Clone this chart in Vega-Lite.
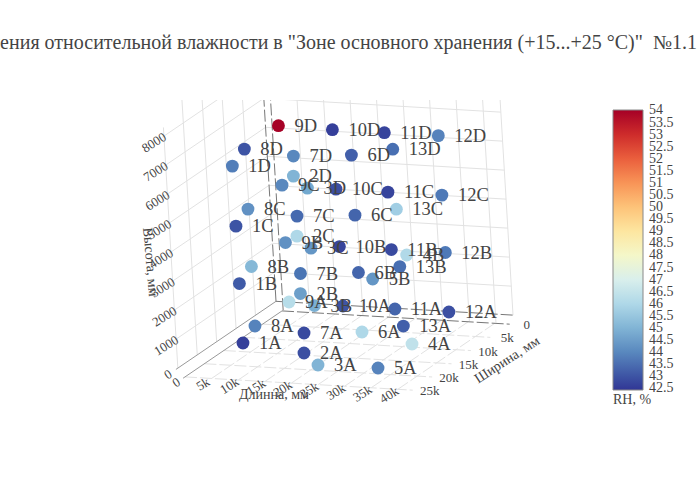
{"$schema":"https://vega.github.io/schema/vega-lite/v6.json","width":700,"height":400,"autosize":{"type":"none"},"padding":{"top":100,"left":0,"right":0,"bottom":0},"background":"white","title":{"text":"Изменения относительной влажности в \"Зоне основного хранения (+15...+25 °C)\"\u00a0\u00a0№1.1","anchor":"end","frame":"group","dx":-3,"offset":47,"font":"Liberation Serif","fontSize":20,"fontWeight":"normal","color":"#444"},"datasets":{"points":[{"label":"1A","l":5940,"w":17940,"h":300,"rh":42.6},{"label":"2A","l":19050,"w":20190,"h":300,"rh":42.9},{"label":"3A","l":24530,"w":24090,"h":300,"rh":45},{"label":"4A","l":35460,"w":14850,"h":300,"rh":46.4},{"label":"5A","l":35680,"w":23910,"h":300,"rh":43.9},{"label":"6A","l":23750,"w":11680,"h":300,"rh":46},{"label":"7A","l":13960,"w":13200,"h":300,"rh":42.8},{"label":"8A","l":3690,"w":11760,"h":300,"rh":43.9},{"label":"9A","l":3480,"w":2700,"h":300,"rh":46.2},{"label":"10A","l":13840,"w":3000,"h":300,"rh":43},{"label":"11A","l":23600,"w":2990,"h":300,"rh":43.3},{"label":"12A","l":33700,"w":2930,"h":300,"rh":42.9},{"label":"13A","l":29400,"w":8770,"h":300,"rh":43.2},{"label":"1B","l":5940,"w":17940,"h":2350,"rh":43.1},{"label":"2B","l":19050,"w":20190,"h":2350,"rh":44.5},{"label":"3B","l":24530,"w":24090,"h":2350,"rh":44.85},{"label":"4B","l":35460,"w":14850,"h":3370,"rh":46.05},{"label":"5B","l":35680,"w":23910,"h":3370,"rh":44.3},{"label":"6B","l":23750,"w":11680,"h":2350,"rh":43.3},{"label":"7B","l":13960,"w":13200,"h":2350,"rh":43.6},{"label":"8B","l":3690,"w":11760,"h":2350,"rh":45.1},{"label":"9B","l":3480,"w":2700,"h":2350,"rh":44.2},{"label":"10B","l":13840,"w":3000,"h":2350,"rh":42.7},{"label":"11B","l":23600,"w":2990,"h":2350,"rh":42.8},{"label":"12B","l":33700,"w":2930,"h":2350,"rh":43.7},{"label":"13B","l":29400,"w":8770,"h":2350,"rh":43.5},{"label":"1C","l":5940,"w":17940,"h":4330,"rh":43},{"label":"2C","l":19050,"w":20190,"h":4330,"rh":46},{"label":"3C","l":24530,"w":24090,"h":4330,"rh":44.3},{"label":"6C","l":23750,"w":11680,"h":4330,"rh":43.3},{"label":"7C","l":13960,"w":13200,"h":4330,"rh":43.4},{"label":"8C","l":3690,"w":11760,"h":4330,"rh":44.2},{"label":"9C","l":3480,"w":2700,"h":4330,"rh":44},{"label":"10C","l":13840,"w":3000,"h":4330,"rh":42.9},{"label":"11C","l":23600,"w":2990,"h":4330,"rh":42.7},{"label":"12C","l":33700,"w":2930,"h":4330,"rh":43.7},{"label":"13C","l":29400,"w":8770,"h":4330,"rh":45.7},{"label":"1D","l":5940,"w":17940,"h":6400,"rh":43.8},{"label":"2D","l":19050,"w":20190,"h":6400,"rh":45},{"label":"3D","l":24530,"w":24090,"h":6400,"rh":44.7},{"label":"6D","l":23750,"w":11680,"h":6400,"rh":43.2},{"label":"7D","l":13960,"w":13200,"h":6400,"rh":44},{"label":"8D","l":3690,"w":11760,"h":6400,"rh":43},{"label":"9D","l":3480,"w":2700,"h":6380,"rh":54},{"label":"10D","l":13840,"w":3000,"h":6380,"rh":42.6},{"label":"11D","l":23600,"w":2990,"h":6380,"rh":42.7},{"label":"12D","l":33700,"w":2930,"h":6380,"rh":43.9},{"label":"13D","l":29400,"w":8770,"h":6400,"rh":43.5}],"grid":[{"l1":5000,"w1":-300,"h1":-290,"l2":5000,"w2":-300,"h2":9000},{"l1":10000,"w1":-300,"h1":-290,"l2":10000,"w2":-300,"h2":9000},{"l1":15000,"w1":-300,"h1":-290,"l2":15000,"w2":-300,"h2":9000},{"l1":20000,"w1":-300,"h1":-290,"l2":20000,"w2":-300,"h2":9000},{"l1":25000,"w1":-300,"h1":-290,"l2":25000,"w2":-300,"h2":9000},{"l1":30000,"w1":-300,"h1":-290,"l2":30000,"w2":-300,"h2":9000},{"l1":35000,"w1":-300,"h1":-290,"l2":35000,"w2":-300,"h2":9000},{"l1":40000,"w1":-300,"h1":-290,"l2":40000,"w2":-300,"h2":9000},{"l1":43300,"w1":-300,"h1":0,"l2":43300,"w2":-300,"h2":9000},{"l1":-1250,"w1":-300,"h1":1000,"l2":43300,"w2":-300,"h2":1000},{"l1":-1250,"w1":-300,"h1":2000,"l2":43300,"w2":-300,"h2":2000},{"l1":-1250,"w1":-300,"h1":3000,"l2":43300,"w2":-300,"h2":3000},{"l1":-1250,"w1":-300,"h1":4000,"l2":43300,"w2":-300,"h2":4000},{"l1":-1250,"w1":-300,"h1":5000,"l2":43300,"w2":-300,"h2":5000},{"l1":-1250,"w1":-300,"h1":6000,"l2":43300,"w2":-300,"h2":6000},{"l1":-1250,"w1":-300,"h1":7000,"l2":43300,"w2":-300,"h2":7000},{"l1":-1250,"w1":5000,"h1":0,"l2":-1250,"w2":5000,"h2":9000},{"l1":-1250,"w1":10000,"h1":0,"l2":-1250,"w2":10000,"h2":9000},{"l1":-1250,"w1":15000,"h1":0,"l2":-1250,"w2":15000,"h2":9000},{"l1":-1250,"w1":20000,"h1":0,"l2":-1250,"w2":20000,"h2":9000},{"l1":-1250,"w1":25000,"h1":0,"l2":-1250,"w2":25000,"h2":8300},{"l1":-1250,"w1":-300,"h1":1000,"l2":-1250,"w2":25500,"h2":1000},{"l1":-1250,"w1":-300,"h1":2000,"l2":-1250,"w2":25500,"h2":2000},{"l1":-1250,"w1":-300,"h1":3000,"l2":-1250,"w2":25500,"h2":3000},{"l1":-1250,"w1":-300,"h1":4000,"l2":-1250,"w2":25500,"h2":4000},{"l1":-1250,"w1":-300,"h1":5000,"l2":-1250,"w2":25500,"h2":5000},{"l1":-1250,"w1":-300,"h1":6000,"l2":-1250,"w2":25500,"h2":6000},{"l1":-1250,"w1":-300,"h1":7000,"l2":-1250,"w2":25500,"h2":7000},{"l1":-1250,"w1":-300,"h1":8000,"l2":-1250,"w2":25500,"h2":8000}],"floor":[{"l1":5000,"w1":0,"h1":-290,"l2":5000,"w2":25500,"h2":-290},{"l1":10000,"w1":0,"h1":-290,"l2":10000,"w2":25500,"h2":-290},{"l1":15000,"w1":0,"h1":-290,"l2":15000,"w2":25500,"h2":-290},{"l1":20000,"w1":0,"h1":-290,"l2":20000,"w2":25500,"h2":-290},{"l1":25000,"w1":0,"h1":-290,"l2":25000,"w2":25500,"h2":-290},{"l1":30000,"w1":0,"h1":-290,"l2":30000,"w2":25500,"h2":-290},{"l1":35000,"w1":0,"h1":-290,"l2":35000,"w2":25500,"h2":-290},{"l1":40000,"w1":0,"h1":-290,"l2":40000,"w2":25500,"h2":-290},{"l1":0,"w1":5000,"h1":-290,"l2":42800,"w2":5000,"h2":-290},{"l1":0,"w1":10000,"h1":-290,"l2":42800,"w2":10000,"h2":-290},{"l1":0,"w1":15000,"h1":-290,"l2":42800,"w2":15000,"h2":-290},{"l1":0,"w1":20000,"h1":-290,"l2":42800,"w2":20000,"h2":-290},{"l1":0,"w1":25000,"h1":-290,"l2":42800,"w2":25000,"h2":-290}],"zero":[{"l1":0,"w1":0,"h1":-290,"l2":0,"w2":25500,"h2":-290},{"l1":-1250,"w1":-300,"h1":0,"l2":-1250,"w2":25500,"h2":0}],"spine":[{"l1":0,"w1":0,"h1":-290,"l2":42800,"w2":0,"h2":-290},{"l1":-1250,"w1":-300,"h1":0,"l2":43300,"w2":-300,"h2":0},{"l1":-1250,"w1":-300,"h1":0,"l2":-1250,"w2":-300,"h2":9000},{"l1":0,"w1":-300,"h1":-290,"l2":0,"w2":-300,"h2":9000}],"lengthTicks":[{"t":"0","l":0,"w":27200,"h":-290},{"t":"5k","l":5000,"w":27200,"h":-290},{"t":"10k","l":10000,"w":27200,"h":-290},{"t":"15k","l":15000,"w":27200,"h":-290},{"t":"20k","l":20000,"w":27200,"h":-290},{"t":"25k","l":25000,"w":27200,"h":-290},{"t":"30k","l":30000,"w":27200,"h":-290},{"t":"35k","l":35000,"w":27200,"h":-290},{"t":"40k","l":40000,"w":27200,"h":-290}],"widthTicks":[{"t":"0","l":46000,"w":0,"h":-290},{"t":"5k","l":46000,"w":5000,"h":-290},{"t":"10k","l":46000,"w":10000,"h":-290},{"t":"15k","l":46000,"w":15000,"h":-290},{"t":"20k","l":46000,"w":20000,"h":-290},{"t":"25k","l":46000,"w":25000,"h":-290}],"heightTicks":[{"t":"0","l":-1250,"w":27500,"h":0},{"t":"1000","l":-1250,"w":27500,"h":1000},{"t":"2000","l":-1250,"w":27500,"h":2000},{"t":"3000","l":-1250,"w":27500,"h":3000},{"t":"4000","l":-1250,"w":27500,"h":4000},{"t":"5000","l":-1250,"w":27500,"h":5000},{"t":"6000","l":-1250,"w":27500,"h":6000},{"t":"7000","l":-1250,"w":27500,"h":7000},{"t":"8000","l":-1250,"w":27500,"h":8000}]},"layer":[{"data":{"name":"grid"},"transform":[{"calculate":"281.5+0.00532*datum.l1-0.00388*datum.w1-0.00174*datum.h1","as":"sx1"},{"calculate":"302.5+0.00031*datum.l1+0.00264*datum.w1-0.029*datum.h1","as":"sy1"},{"calculate":"281.5+0.00532*datum.l2-0.00388*datum.w2-0.00174*datum.h2","as":"sx2"},{"calculate":"302.5+0.00031*datum.l2+0.00264*datum.w2-0.029*datum.h2","as":"sy2"}],"mark":{"type":"rule","stroke":"#e2e2e2","strokeWidth":1,"clip":true},"encoding":{"x":{"field":"sx1","type":"quantitative","scale":{"domain":[0,700]},"axis":null},"y":{"field":"sy1","type":"quantitative","scale":{"domain":[500,100]},"axis":null},"x2":{"field":"sx2"},"y2":{"field":"sy2"}}},{"data":{"name":"floor"},"transform":[{"calculate":"281.5+0.00532*datum.l1-0.00388*datum.w1-0.00174*datum.h1","as":"sx1"},{"calculate":"302.5+0.00031*datum.l1+0.00264*datum.w1-0.029*datum.h1","as":"sy1"},{"calculate":"281.5+0.00532*datum.l2-0.00388*datum.w2-0.00174*datum.h2","as":"sx2"},{"calculate":"302.5+0.00031*datum.l2+0.00264*datum.w2-0.029*datum.h2","as":"sy2"}],"mark":{"type":"rule","stroke":"#e2e2e2","strokeWidth":1,"strokeDash":[12,3],"clip":true},"encoding":{"x":{"field":"sx1","type":"quantitative","scale":{"domain":[0,700]},"axis":null},"y":{"field":"sy1","type":"quantitative","scale":{"domain":[500,100]},"axis":null},"x2":{"field":"sx2"},"y2":{"field":"sy2"}}},{"data":{"name":"zero"},"transform":[{"calculate":"281.5+0.00532*datum.l1-0.00388*datum.w1-0.00174*datum.h1","as":"sx1"},{"calculate":"302.5+0.00031*datum.l1+0.00264*datum.w1-0.029*datum.h1","as":"sy1"},{"calculate":"281.5+0.00532*datum.l2-0.00388*datum.w2-0.00174*datum.h2","as":"sx2"},{"calculate":"302.5+0.00031*datum.l2+0.00264*datum.w2-0.029*datum.h2","as":"sy2"}],"mark":{"type":"rule","stroke":"#999","strokeWidth":1,"clip":true},"encoding":{"x":{"field":"sx1","type":"quantitative","scale":{"domain":[0,700]},"axis":null},"y":{"field":"sy1","type":"quantitative","scale":{"domain":[500,100]},"axis":null},"x2":{"field":"sx2"},"y2":{"field":"sy2"}}},{"data":{"name":"spine"},"transform":[{"calculate":"281.5+0.00532*datum.l1-0.00388*datum.w1-0.00174*datum.h1","as":"sx1"},{"calculate":"302.5+0.00031*datum.l1+0.00264*datum.w1-0.029*datum.h1","as":"sy1"},{"calculate":"281.5+0.00532*datum.l2-0.00388*datum.w2-0.00174*datum.h2","as":"sx2"},{"calculate":"302.5+0.00031*datum.l2+0.00264*datum.w2-0.029*datum.h2","as":"sy2"}],"mark":{"type":"rule","stroke":"#777","strokeWidth":1,"strokeDash":[12,3],"clip":true},"encoding":{"x":{"field":"sx1","type":"quantitative","scale":{"domain":[0,700]},"axis":null},"y":{"field":"sy1","type":"quantitative","scale":{"domain":[500,100]},"axis":null},"x2":{"field":"sx2"},"y2":{"field":"sy2"}}},{"data":{"name":"points"},"transform":[{"calculate":"281.5+0.00532*datum.l-0.00388*datum.w-0.00174*datum.h","as":"sx"},{"calculate":"302.5+0.00031*datum.l+0.00264*datum.w-0.029*datum.h","as":"sy"}],"mark":{"type":"circle","size":165,"opacity":1},"encoding":{"x":{"field":"sx","type":"quantitative","scale":{"domain":[0,700]},"axis":null},"y":{"field":"sy","type":"quantitative","scale":{"domain":[500,100]},"axis":null},"color":{"field":"rh","type":"quantitative","scale":{"scheme":"redyellowblue","reverse":true,"domain":[42.43,54.02]},"legend":{"orient":"none","legendX":613,"legendY":10,"title":"RH, %","titleOrient":"bottom","titleAnchor":"start","titleFont":"Liberation Serif","titleFontSize":14,"titleFontWeight":"normal","titleColor":"#444","titlePadding":-2,"gradientLength":280,"gradientThickness":30,"gradientStrokeColor":"#888","gradientStrokeWidth":1,"values":[42.5,43,43.5,44,44.5,45,45.5,46,46.5,47,47.5,48,48.5,49,49.5,50,50.5,51,51.5,52,52.5,53,53.5,54],"labelFont":"Liberation Serif","labelFontSize":14,"labelColor":"#444","labelOverlap":false,"labelOffset":6,"labelExpr":"datum.value"}}}},{"data":{"name":"points"},"transform":[{"calculate":"281.5+0.00532*datum.l-0.00388*datum.w-0.00174*datum.h","as":"sx"},{"calculate":"302.5+0.00031*datum.l+0.00264*datum.w-0.029*datum.h","as":"sy"}],"mark":{"type":"text","align":"left","baseline":"middle","dx":16,"font":"Liberation Serif","fontSize":18.5,"color":"#444"},"encoding":{"x":{"field":"sx","type":"quantitative","scale":{"domain":[0,700]},"axis":null},"y":{"field":"sy","type":"quantitative","scale":{"domain":[500,100]},"axis":null},"text":{"field":"label"}}},{"data":{"name":"lengthTicks"},"transform":[{"calculate":"281.5+0.00532*datum.l-0.00388*datum.w-0.00174*datum.h","as":"sx"},{"calculate":"302.5+0.00031*datum.l+0.00264*datum.w-0.029*datum.h","as":"sy"}],"mark":{"type":"text","align":"center","baseline":"middle","angle":-32,"font":"Liberation Serif","fontSize":13,"color":"#444"},"encoding":{"x":{"field":"sx","type":"quantitative","scale":{"domain":[0,700]},"axis":null},"y":{"field":"sy","type":"quantitative","scale":{"domain":[500,100]},"axis":null},"text":{"field":"t"}}},{"data":{"name":"widthTicks"},"transform":[{"calculate":"281.5+0.00532*datum.l-0.00388*datum.w-0.00174*datum.h","as":"sx"},{"calculate":"302.5+0.00031*datum.l+0.00264*datum.w-0.029*datum.h","as":"sy"}],"mark":{"type":"text","align":"center","baseline":"middle","font":"Liberation Serif","fontSize":13,"color":"#444"},"encoding":{"x":{"field":"sx","type":"quantitative","scale":{"domain":[0,700]},"axis":null},"y":{"field":"sy","type":"quantitative","scale":{"domain":[500,100]},"axis":null},"text":{"field":"t"}}},{"data":{"name":"heightTicks"},"transform":[{"calculate":"281.5+0.00532*datum.l-0.00388*datum.w-0.00174*datum.h","as":"sx"},{"calculate":"302.5+0.00031*datum.l+0.00264*datum.w-0.029*datum.h","as":"sy"}],"mark":{"type":"text","align":"center","baseline":"middle","angle":-32,"font":"Liberation Serif","fontSize":13,"color":"#444"},"encoding":{"x":{"field":"sx","type":"quantitative","scale":{"domain":[0,700]},"axis":null},"y":{"field":"sy","type":"quantitative","scale":{"domain":[500,100]},"axis":null},"text":{"field":"t"}}},{"data":{"values":[{"t":"Длинна, мм","l":20000,"w":29500,"h":-290}]},"transform":[{"calculate":"281.5+0.00532*datum.l-0.00388*datum.w-0.00174*datum.h","as":"sx"},{"calculate":"302.5+0.00031*datum.l+0.00264*datum.w-0.029*datum.h","as":"sy"}],"mark":{"type":"text","align":"center","baseline":"middle","font":"Liberation Serif","fontSize":14,"color":"#444"},"encoding":{"x":{"field":"sx","type":"quantitative","scale":{"domain":[0,700]},"axis":null},"y":{"field":"sy","type":"quantitative","scale":{"domain":[500,100]},"axis":null},"text":{"field":"t"}}},{"data":{"values":[{"t":"Ширина, мм","l":51500,"w":12550,"h":-290}]},"transform":[{"calculate":"281.5+0.00532*datum.l-0.00388*datum.w-0.00174*datum.h","as":"sx"},{"calculate":"302.5+0.00031*datum.l+0.00264*datum.w-0.029*datum.h","as":"sy"}],"mark":{"type":"text","align":"center","baseline":"middle","angle":-33,"font":"Liberation Serif","fontSize":14,"color":"#444"},"encoding":{"x":{"field":"sx","type":"quantitative","scale":{"domain":[0,700]},"axis":null},"y":{"field":"sy","type":"quantitative","scale":{"domain":[500,100]},"axis":null},"text":{"field":"t"}}},{"data":{"values":[{"t":"Высота, мм","l":-1250,"w":30300,"h":4140}]},"transform":[{"calculate":"281.5+0.00532*datum.l-0.00388*datum.w-0.00174*datum.h","as":"sx"},{"calculate":"302.5+0.00031*datum.l+0.00264*datum.w-0.029*datum.h","as":"sy"}],"mark":{"type":"text","align":"center","baseline":"middle","angle":85,"font":"Liberation Serif","fontSize":14,"color":"#444"},"encoding":{"x":{"field":"sx","type":"quantitative","scale":{"domain":[0,700]},"axis":null},"y":{"field":"sy","type":"quantitative","scale":{"domain":[500,100]},"axis":null},"text":{"field":"t"}}}],"config":{"view":{"stroke":null}}}
